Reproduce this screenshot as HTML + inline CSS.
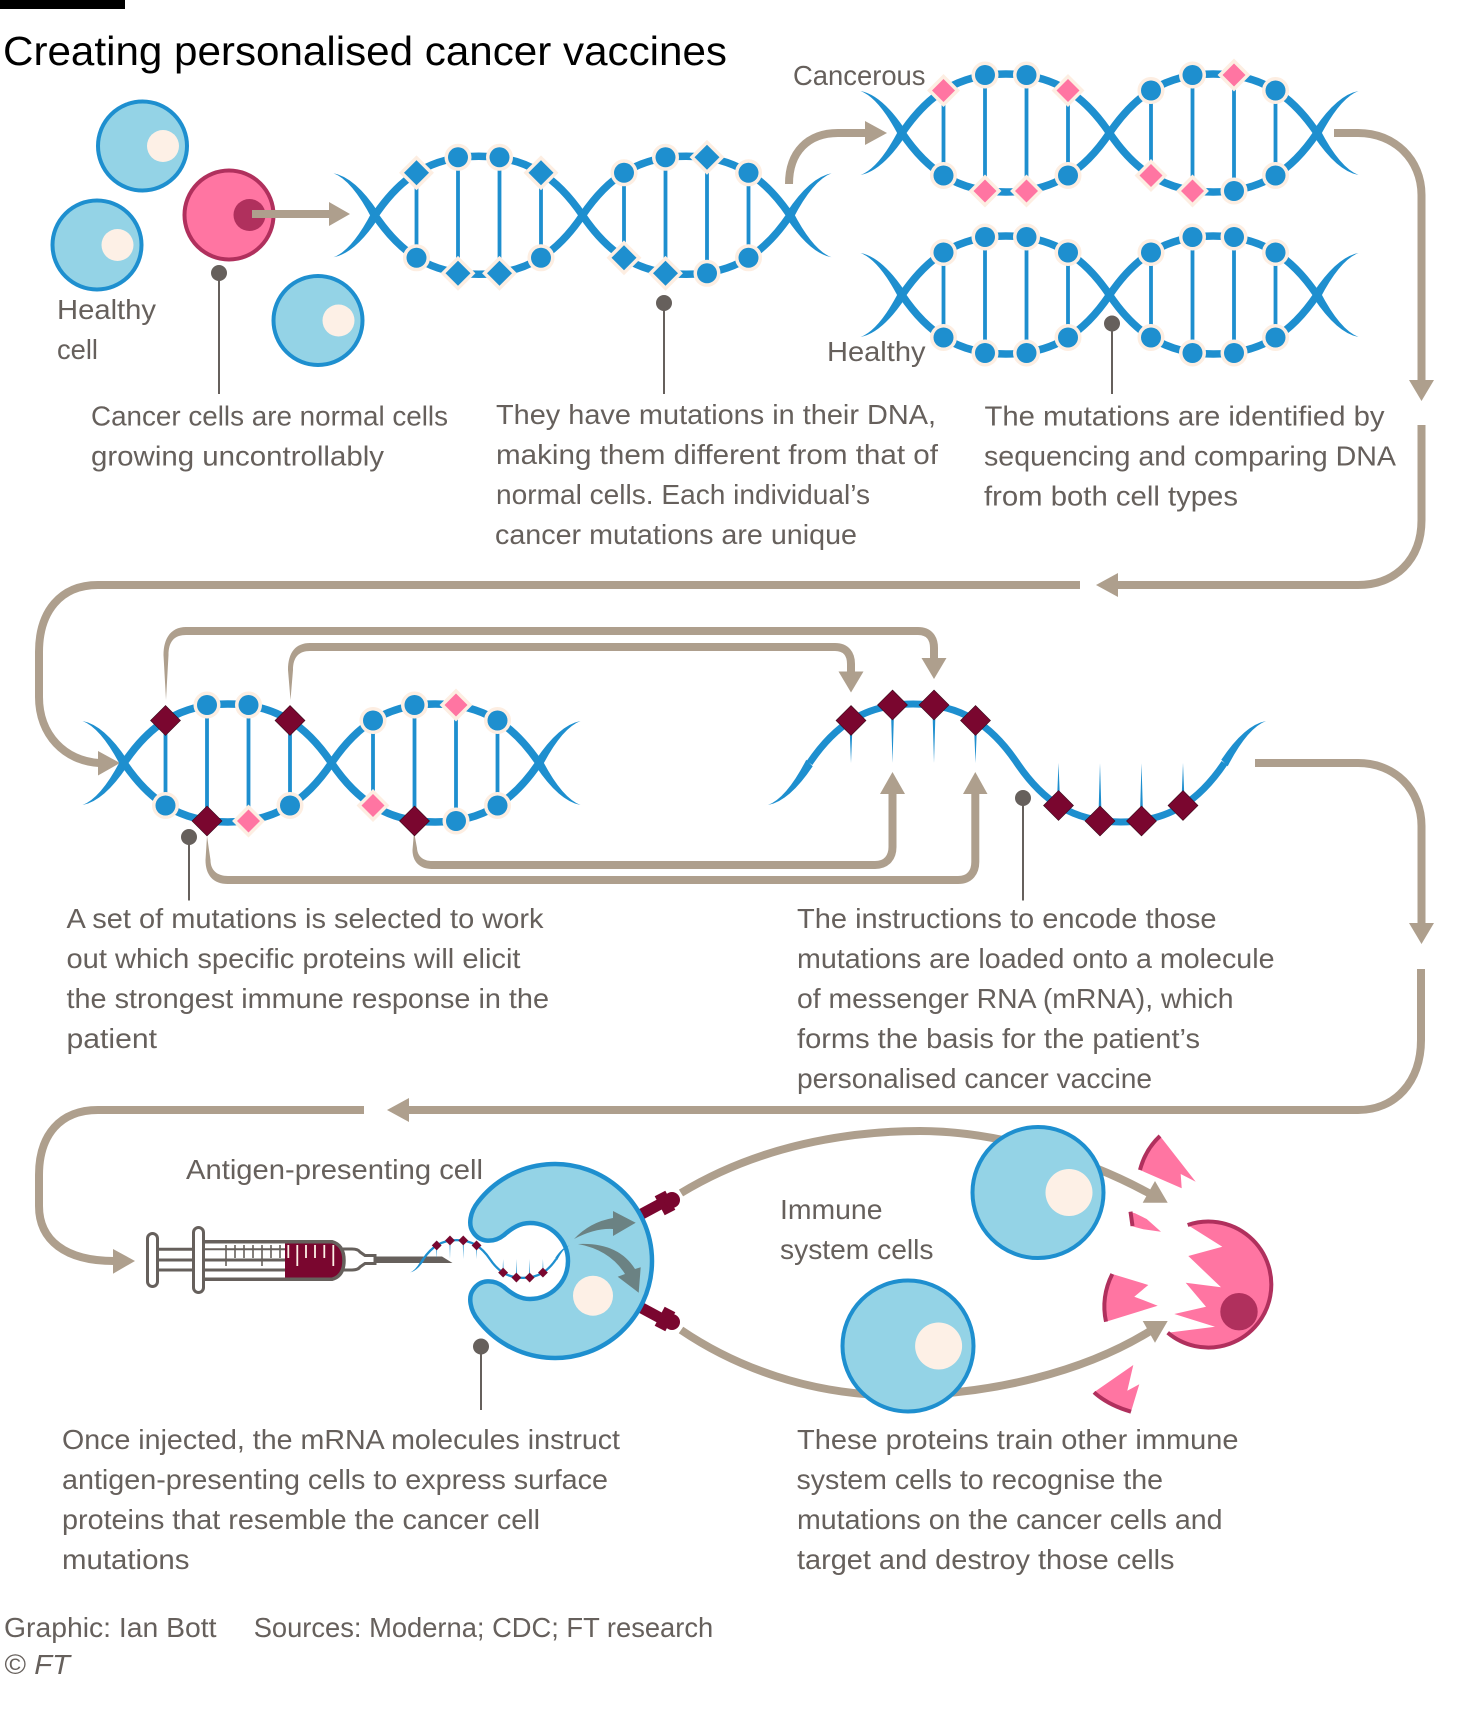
<!DOCTYPE html>
<html lang="en">
<head>
<meta charset="utf-8">
<title>Creating personalised cancer vaccines</title>
<style>
html,body{margin:0;padding:0;background:#fff;width:1459px;height:1711px;overflow:hidden}
svg{display:block}
text{font-family:"Liberation Sans",sans-serif;font-size:28px;fill:#66605c}
.arrow{fill:none;stroke:#ae9f8d;stroke-width:8}
.head{fill:#ae9f8d;stroke:none}
.pin-line{stroke:#66605c;stroke-width:2}
.pin-dot{fill:#66605c}
.cell{fill:#94d3e6;stroke:#1e8fcf;stroke-width:4}
.nuc{fill:#fdf0e6}
.pink{fill:#ff75a2}
.edge{fill:none;stroke:#b0305d;stroke-width:4}
.syr{fill:none;stroke:#66605c;stroke-width:3}
</style>
</head>
<body>
<svg xmlns="http://www.w3.org/2000/svg" width="1459" height="1711" viewBox="0 0 1459 1711">
<rect width="1459" height="1711" fill="#fff"/>
<rect x="0" y="0" width="125" height="9" fill="#000"/>
<text x="3" y="65" textLength="724" lengthAdjust="spacingAndGlyphs" style="font-size:41px;fill:#000">Creating personalised cancer vaccines</text>

<!-- healthy and cancer cells -->
<g><circle class="cell" cx="142.5" cy="146" r="44.5"/><circle class="nuc" cx="163" cy="146" r="16"/></g>
<g><circle class="cell" cx="97" cy="245" r="44.5"/><circle class="nuc" cx="117.5" cy="245" r="16"/></g>
<g><circle class="cell" cx="318" cy="320.5" r="44.5"/><circle class="nuc" cx="338.5" cy="320.5" r="16"/></g>
<g><circle cx="229" cy="215" r="44.5" fill="#ff75a2" stroke="#b0305d" stroke-width="4"/><circle cx="249.5" cy="215" r="16" fill="#b0305d"/></g>

<!-- flow arrows -->
<g>
<path class="arrow" d="M252,214 L330,214"/>
<polygon class="head" points="329,202 350,214 329,226"/>
<path class="arrow" d="M789,184 C789,152 808,133 838,133 L866,133"/>
<polygon class="head" points="865,121 887,133 865,145"/>
<path class="arrow" d="M1334,133 L1358,133 C1395,133 1421.5,160 1421.5,195 L1421.5,382"/>
<polygon class="head" points="1409,380 1434,380 1421.5,401"/>
<path class="arrow" d="M1421.5,425 L1421.5,520 C1421.5,560 1395,585 1358,585 L1117,585"/>
<polygon class="head" points="1118,573 1096,585 1118,597"/>
<path class="arrow" d="M1080,585 L98,585 C60,585 39,612 39,652 L39,697 C39,735 65,761 99,763"/>
<polygon class="head" points="98,751 120,763 98,775.5"/>

<path class="head" d="M166,700 L163.5,655 C163.5,637 172,627 186,627 L186,635 C174,635 168.5,642 168.5,655 Z"/>
<path class="arrow" d="M185,631 L918,631 C929,631 934,638 934,648 L934,660"/>
<polygon class="head" points="921.5,658 946.5,658 934,679"/>
<path class="head" d="M290.5,700 L288,670 C288,652 296,643 310,643 L310,651 C299,651 293,657 293,670 Z"/>
<path class="arrow" d="M309,647 L835,647 C846,647 851,654 851,664 L851,673"/>
<polygon class="head" points="838.5,671.5 863.5,671.5 851,692.5"/>
<path class="head" d="M207,836 L205.5,860 C205.5,875 213,884 228,884 L228,876 C217,876 210.5,870 210.5,860 Z"/>
<path class="arrow" d="M227,880 L958,880 C970,880 975.3,872 975.3,862 L975.3,792"/>
<polygon class="head" points="963,794 987.5,794 975.3,772"/>
<path class="head" d="M414,832 L412.5,850 C412.5,862 420,869 432,869 L432,861 C424,861 417.5,857 417,848 Z"/>
<path class="arrow" d="M431,865 L875,865 C887,865 892.5,857 892.5,847 L892.5,792"/>
<polygon class="head" points="880,794 905,794 892.5,772"/>

<path class="arrow" d="M1255,763 L1358,763 C1395,763 1421.5,790 1421.5,826 L1421.5,925"/>
<polygon class="head" points="1409,923 1434,923 1421.5,944"/>
<path class="arrow" d="M1421,969 L1421,1040 C1421,1082 1395,1110 1358,1110 L408,1110"/>
<polygon class="head" points="409,1098 387,1110 409,1122"/>
<path class="arrow" d="M364,1110 L98,1110 C60,1110 39,1135 39,1175 L39,1206 C39,1240 65,1261 114,1261"/>
<polygon class="head" points="113,1249 135,1261 113,1273.7"/>

<path class="arrow" d="M681,1193 C760,1145 850,1131 920,1131 C1000,1131 1090,1160 1154,1196"/>
<polygon class="head" points="1155,1181 1142.7,1202.7 1167.7,1202.7"/>
<path class="arrow" d="M681,1330 C740,1370 810,1392 880,1395 C990,1398 1090,1370 1155,1328"/>
<polygon class="head" points="1142.7,1321 1167.7,1321 1155,1342.7"/>
</g>

<g id="helix-layer"></g>
<g id="mrna-layer"></g>

<!-- pointers -->
<g>
<line class="pin-line" x1="219" y1="273" x2="219" y2="394"/><circle class="pin-dot" cx="219" cy="273" r="8"/>
<line class="pin-line" x1="664" y1="303" x2="664" y2="394"/><circle class="pin-dot" cx="664" cy="303" r="8"/>
<line class="pin-line" x1="1112" y1="323.5" x2="1112" y2="394"/><circle class="pin-dot" cx="1112" cy="323.5" r="8"/>
<line class="pin-line" x1="189" y1="837" x2="189" y2="900.5"/><circle class="pin-dot" cx="189" cy="837" r="8"/>
<line class="pin-line" x1="1023" y1="798" x2="1023" y2="900.5"/><circle class="pin-dot" cx="1023" cy="798" r="8"/>
<line class="pin-line" x1="481" y1="1346.5" x2="481" y2="1410"/><circle class="pin-dot" cx="481" cy="1346.5" r="8"/>
</g>

<!-- syringe -->
<g>
<path d="M375,1256.5 L442,1256.5 L452.5,1263 L375,1263 Z" fill="#66605c"/>
<path class="syr" d="M343,1249 L352,1249 Q358,1249 360,1252 L365,1255.5 L375,1255.5 L375,1263.5 L365,1263.5 L360,1267 Q358,1270 352,1270 L343,1270"/>
<path class="syr" d="M157,1249.3 L193,1249.3 M157,1260 L285,1260 M157,1270 L285,1270"/>
<path class="syr" d="M204,1249.3 L285,1249.3" style="stroke-width:2"/>
<path d="M285,1241.7 L332,1241.7 Q344,1245 344,1260.5 Q344,1276 332,1279.3 L285,1279.3 Z" fill="#7a062f"/>
<path d="M204,1241.7 L332,1241.7 Q344,1245 344,1260.5 Q344,1276 332,1279.3 L204,1279.3" fill="none" stroke="#66605c" stroke-width="3.5"/>
<path d="M226,1245V1266M235,1245V1258M244,1245V1258M253,1245V1258M262,1245V1266M271,1245V1258M280,1245V1258" stroke="#66605c" stroke-width="1.6" fill="none"/>
<path d="M288.3,1245V1258M297.3,1245V1266M306,1245V1258M315,1245V1258M324.3,1245V1258M333.3,1245V1266" stroke="#fdf0e6" stroke-width="1.8" fill="none"/>
<rect x="147.5" y="1233.5" width="10" height="53" rx="5" fill="#fff" stroke="#66605c" stroke-width="3"/>
<rect x="193.5" y="1227.5" width="10" height="65" rx="5" fill="#fff" stroke="#66605c" stroke-width="3"/>
</g>

<!-- antigen presenting cell -->
<g>
<g>
<line x1="638" y1="1216" x2="664" y2="1202" stroke="#7a062f" stroke-width="11"/><line x1="660" y1="1193.5" x2="670" y2="1212.5" stroke="#7a062f" stroke-width="12"/><circle cx="672" cy="1200" r="8" fill="#7a062f"/>
</g>
<g>
<line x1="638" y1="1306" x2="664" y2="1320" stroke="#7a062f" stroke-width="11"/><line x1="660" y1="1328.5" x2="670" y2="1309.5" stroke="#7a062f" stroke-width="12"/><circle cx="672" cy="1322" r="8" fill="#7a062f"/>
</g>
<path d="M478,1202 A97,97 0 1 1 478,1320 C470,1310 468,1297 473,1290 C480,1279 494,1279 504,1287 C512,1294 520,1299 530,1299 A38,38 0 0 0 530,1223 C520,1223 512,1228 504,1235 C494,1243 480,1243 473,1232 C468,1225 470,1212 478,1202 Z" fill="#94d3e6" stroke="#1e8fcf" stroke-width="4.5"/>
<circle class="nuc" cx="593" cy="1295.7" r="20"/>
<path d="M574,1239 Q590,1222 613,1218 L613,1211 L635.7,1222.7 L613,1236 L613,1229 Q595,1228 574,1239 Z" fill="#6b8283"/>
<path d="M578,1244 Q618,1242 635,1269 L640.7,1267.3 L638.7,1292.7 L617.7,1276.7 L625,1274 Q610,1250 578,1244 Z" fill="#6b8283"/>
</g>
<g id="small-mrna-layer"></g>

<!-- immune cells -->
<g><circle cx="1038" cy="1192.5" r="65.5" class="cell"/><circle class="nuc" cx="1069" cy="1192.5" r="23.5"/></g>
<g><circle cx="908" cy="1346" r="65.5" class="cell"/><circle class="nuc" cx="938.6" cy="1346" r="23.5"/></g>

<!-- destroyed cancer cell -->
<g>
<path class="pink" d="M1187.7,1225 A63,63 0 1 1 1167.7,1332.7 L1215,1326.7 L1174.3,1314 L1206,1306.7 L1185.7,1282.7 L1221,1287.3 L1188.3,1256 L1222.3,1246.7 Z"/>
<path class="edge" d="M1187.7,1225 A63,63 0 1 1 1167.7,1332.7"/>
<circle cx="1239" cy="1311.7" r="18.7" fill="#b0305d"/>
<path class="pink" d="M1160,1136 L1195.7,1181.7 L1180.7,1174 L1181.7,1188.3 L1140,1170 Q1145,1150 1160,1136 Z"/>
<path class="edge" d="M1140,1170 Q1145,1150 1160,1136"/>
<path class="pink" d="M1129.3,1211.7 L1135,1213.3 L1146.7,1219 L1161,1231.7 L1143.3,1229.3 L1131,1226 Z"/>
<path class="edge" d="M1130.5,1211.7 L1132.5,1226"/>
<path class="pink" d="M1112.3,1274 L1148.3,1285 L1134.3,1296.7 L1157.7,1305.7 L1106,1321.7 Q1100.7,1297 1112.3,1274 Z"/>
<path class="edge" d="M1106,1321.7 Q1100.7,1297 1112.3,1274"/>
<path class="pink" d="M1133.3,1365 L1127.3,1390.7 L1139.3,1384.3 L1131,1411.7 Q1108,1405 1094,1392.3 Z"/>
<path class="edge" d="M1131,1411.7 Q1108,1405 1094,1392.3"/>
</g>

<!-- labels -->
<g>
<text x="57" y="319" textLength="99" lengthAdjust="spacingAndGlyphs">Healthy</text>
<text x="57" y="359" textLength="41" lengthAdjust="spacingAndGlyphs">cell</text>
<text x="793" y="85" textLength="132.5" lengthAdjust="spacingAndGlyphs">Cancerous</text>
<text x="827" y="361" textLength="98.5" lengthAdjust="spacingAndGlyphs">Healthy</text>
<text x="91" y="425.5" textLength="357" lengthAdjust="spacingAndGlyphs">Cancer cells are normal cells</text>
<text x="91" y="465.5" textLength="293" lengthAdjust="spacingAndGlyphs">growing uncontrollably</text>
<text x="496" y="424" textLength="440" lengthAdjust="spacingAndGlyphs">They have mutations in their DNA,</text>
<text x="496" y="464" textLength="442" lengthAdjust="spacingAndGlyphs">making them different from that of</text>
<text x="496" y="504" textLength="374" lengthAdjust="spacingAndGlyphs">normal cells. Each individual’s</text>
<text x="495" y="544" textLength="362" lengthAdjust="spacingAndGlyphs">cancer mutations are unique</text>
<text x="984.5" y="425.5" textLength="400" lengthAdjust="spacingAndGlyphs">The mutations are identified by</text>
<text x="984" y="465.5" textLength="412" lengthAdjust="spacingAndGlyphs">sequencing and comparing DNA</text>
<text x="984" y="505.5" textLength="254" lengthAdjust="spacingAndGlyphs">from both cell types</text>
<text x="66.5" y="928" textLength="477" lengthAdjust="spacingAndGlyphs">A set of mutations is selected to work</text>
<text x="66.5" y="968" textLength="454" lengthAdjust="spacingAndGlyphs">out which specific proteins will elicit</text>
<text x="66.5" y="1008" textLength="482.5" lengthAdjust="spacingAndGlyphs">the strongest immune response in the</text>
<text x="66.5" y="1048" textLength="90.5" lengthAdjust="spacingAndGlyphs">patient</text>
<text x="797" y="928" textLength="419.5" lengthAdjust="spacingAndGlyphs">The instructions to encode those</text>
<text x="797" y="968" textLength="477.5" lengthAdjust="spacingAndGlyphs">mutations are loaded onto a molecule</text>
<text x="797" y="1008" textLength="436.5" lengthAdjust="spacingAndGlyphs">of messenger RNA (mRNA), which</text>
<text x="797" y="1048" textLength="403" lengthAdjust="spacingAndGlyphs">forms the basis for the patient’s</text>
<text x="797" y="1088" textLength="355" lengthAdjust="spacingAndGlyphs">personalised cancer vaccine</text>
<text x="186" y="1179" textLength="297" lengthAdjust="spacingAndGlyphs">Antigen-presenting cell</text>
<text x="780" y="1219" textLength="102.5" lengthAdjust="spacingAndGlyphs">Immune</text>
<text x="780" y="1259" textLength="153.5" lengthAdjust="spacingAndGlyphs">system cells</text>
<text x="62" y="1449" textLength="558" lengthAdjust="spacingAndGlyphs">Once injected, the mRNA molecules instruct</text>
<text x="62" y="1489" textLength="546" lengthAdjust="spacingAndGlyphs">antigen-presenting cells to express surface</text>
<text x="62" y="1529" textLength="478" lengthAdjust="spacingAndGlyphs">proteins that resemble the cancer cell</text>
<text x="62" y="1569" textLength="127.5" lengthAdjust="spacingAndGlyphs">mutations</text>
<text x="797" y="1449" textLength="441.5" lengthAdjust="spacingAndGlyphs">These proteins train other immune</text>
<text x="796.5" y="1489" textLength="366.5" lengthAdjust="spacingAndGlyphs">system cells to recognise the</text>
<text x="797" y="1529" textLength="425.5" lengthAdjust="spacingAndGlyphs">mutations on the cancer cells and</text>
<text x="797" y="1569" textLength="377.5" lengthAdjust="spacingAndGlyphs">target and destroy those cells</text>
<text x="4" y="1637" textLength="212.5" lengthAdjust="spacingAndGlyphs">Graphic: Ian Bott</text>
<text x="253.7" y="1637" textLength="459.5" lengthAdjust="spacingAndGlyphs">Sources: Moderna; CDC; FT research</text>
<text x="4.5" y="1674" textLength="65.5" lengthAdjust="spacingAndGlyphs">© <tspan font-style="italic">FT</tspan></text>
</g>

<script>
// Node kinds along each strand: c = circle, b = blue diamond, p = pink diamond, d = dark diamond
const dna1Top = ['b','c','c','b','c','c','b','c'];
const dna1Bottom = ['c','b','b','c','b','b','c','c'];
const cancerousTop = ['p','c','c','p','c','c','p','c'];
const cancerousBottom = ['c','p','p','c','p','p','c','c'];
const healthyTop = ['c','c','c','c','c','c','c','c'];
const healthyBottom = ['c','c','c','c','c','c','c','c'];
const selectedTop = ['d','c','c','d','c','c','p','c'];
const selectedBottom = ['c','d','p','c','p','d','c','c'];
const mrnaTop = ['d','d','d','d'];
const mrnaBottom = ['d','d','d','d'];

const NS = 'http://www.w3.org/2000/svg';
const BLUE = '#1e8fcf', CREAM = '#fdeee2', PINK = '#ff75a2', DARK = '#7a062f';
const HALF = 207.5, STEP = 41.5, AMP = 59;

function mk(tag, attrs, parent) {
  const el = document.createElementNS(NS, tag);
  for (const k in attrs) el.setAttribute(k, attrs[k]);
  parent.appendChild(el);
  return el;
}
function waveY(slot) { return (slot === 0 || slot === 3) ? 42.5 : 58; }
function wave(x0, cy, s) {
  const a = 37 * s, b = AMP * s;
  return 'C' + (x0 + 25) + ',' + (cy - a) + ' ' + (x0 + 55) + ',' + (cy - b) + ' ' + (x0 + 103.75) + ',' + (cy - b) +
    ' C' + (x0 + 152.5) + ',' + (cy - b) + ' ' + (x0 + 182.5) + ',' + (cy - a) + ' ' + (x0 + HALF) + ',' + cy;
}
function strandPath(x0, cy, s, halves) {
  let d = 'M' + x0 + ',' + cy + ' ', sign = s;
  for (let i = 0; i < halves; i++) { d += wave(x0 + i * HALF, cy, sign) + ' '; sign = -sign; }
  return d;
}
function tailPath(x, cy, sx, sy) {
  const tx = x + sx * 41.5, ty = cy + sy * 42;
  return 'M' + tx + ',' + ty +
    ' Q' + (x + sx * 20) + ',' + (cy + sy * 38) + ' ' + (x - sx * 3.2) + ',' + (cy + sy * 3.2) +
    ' L' + (x + sx * 3.2) + ',' + (cy - sy * 3.2) +
    ' Q' + (x + sx * 23) + ',' + (cy + sy * 35) + ' ' + tx + ',' + ty + ' Z';
}
function drawMarker(g, kind, x, y) {
  let el;
  if (kind === 'c') {
    el = mk('circle', {cx: x, cy: y, r: 10, fill: BLUE, stroke: CREAM, 'stroke-width': 7, 'paint-order': 'stroke'}, g);
    
    
    return;
  }
  const h = kind === 'd' ? 15 : kind === 'p' ? 11.5 : 12.5;
  const pts = [x, y - h, x + h, y, x, y + h, x - h, y].join(' ');
  if (kind === 'd') {
    el = mk('polygon', {points: pts, fill: DARK, stroke: '#3a0a1c', 'stroke-width': 0.6}, g);
    
  } else if (kind === 'p') {
    el = mk('polygon', {points: pts, fill: PINK, stroke: CREAM, 'stroke-width': 7, 'paint-order': 'stroke'}, g);
    
  } else {
    el = mk('polygon', {points: pts, fill: BLUE, stroke: CREAM, 'stroke-width': 7, 'paint-order': 'stroke'}, g);
    
  }
  
}
function drawHelix(name, x0, cy, top, bottom) {
  const g = mk('g', {}, document.getElementById('helix-layer'));
  
  
  [1, -1].forEach(function (s) {
    const st = mk('path', {d: strandPath(x0, cy, s, 2), fill: 'none', stroke: BLUE, 'stroke-width': 7.5}, g);
    
    
    const t1 = mk('path', {d: tailPath(x0, cy, -1, s), fill: BLUE}, g);
    
    
    const t2 = mk('path', {d: tailPath(x0 + 2 * HALF, cy, 1, s), fill: BLUE}, g);
    
    
  });
  top.forEach(function (kind, i) {
    const slot = i % 4, x = x0 + Math.floor(i / 4) * HALF + (slot + 1) * STEP;
    const r = mk('line', {x1: x, x2: x, y1: cy - waveY(slot), y2: cy + waveY(slot), stroke: BLUE, 'stroke-width': 3.8}, g);
    
    
  });
  top.forEach(function (kind, i) {
    const slot = i % 4, x = x0 + Math.floor(i / 4) * HALF + (slot + 1) * STEP;
    drawMarker(g, kind, x, cy - waveY(slot));
    drawMarker(g, bottom[i], x, cy + waveY(slot));
  });
}
function drawMrna(parent, x0, cy, top, bottom) {
  const st = mk('path', {d: strandPath(x0, cy, 1, 2), fill: 'none', stroke: BLUE, 'stroke-width': 7}, parent);
  
  
  const t1 = mk('path', {d: tailPath(x0, cy, -1, 1), fill: BLUE}, parent);
  
  
  const t2 = mk('path', {d: tailPath(x0 + 2 * HALF, cy, 1, -1), fill: BLUE}, parent);
  
  
  function spike(x, y) {
    const sp = mk('polygon', {points: [x - 1.7, y, x + 1.7, y, x, cy].join(' '), fill: BLUE}, parent);
    
    
  }
  top.forEach(function (kind, i) {
    const x = x0 + (i + 1) * STEP, y = cy - waveY(i);
    spike(x, y);
  });
  bottom.forEach(function (kind, i) {
    const x = x0 + HALF + (i + 1) * STEP, y = cy + waveY(i);
    spike(x, y);
  });
  top.forEach(function (kind, i) {
    drawMarker(parent, kind, x0 + (i + 1) * STEP, cy - waveY(i));
  });
  bottom.forEach(function (kind, i) {
    drawMarker(parent, kind, x0 + HALF + (i + 1) * STEP, cy + waveY(i));
  });
}
drawHelix('dna-cell-mutations', 375, 215.3, dna1Top, dna1Bottom);
drawHelix('dna-cancerous', 902, 133, cancerousTop, cancerousBottom);
drawHelix('dna-healthy', 902, 295, healthyTop, healthyBottom);
drawHelix('dna-selected', 124, 763, selectedTop, selectedBottom);
drawMrna(document.getElementById('mrna-layer'), 809.5, 763, mrnaTop, mrnaBottom);
const smallGroup = document.getElementById('small-mrna-layer');
const smallInner = mk('g', {transform: 'translate(436.7,1259) scale(0.32) translate(-851,-763)'}, smallGroup);


drawMrna(smallInner, 809.5, 763, mrnaTop, mrnaBottom);
</script>
</svg>
</body>
</html>
